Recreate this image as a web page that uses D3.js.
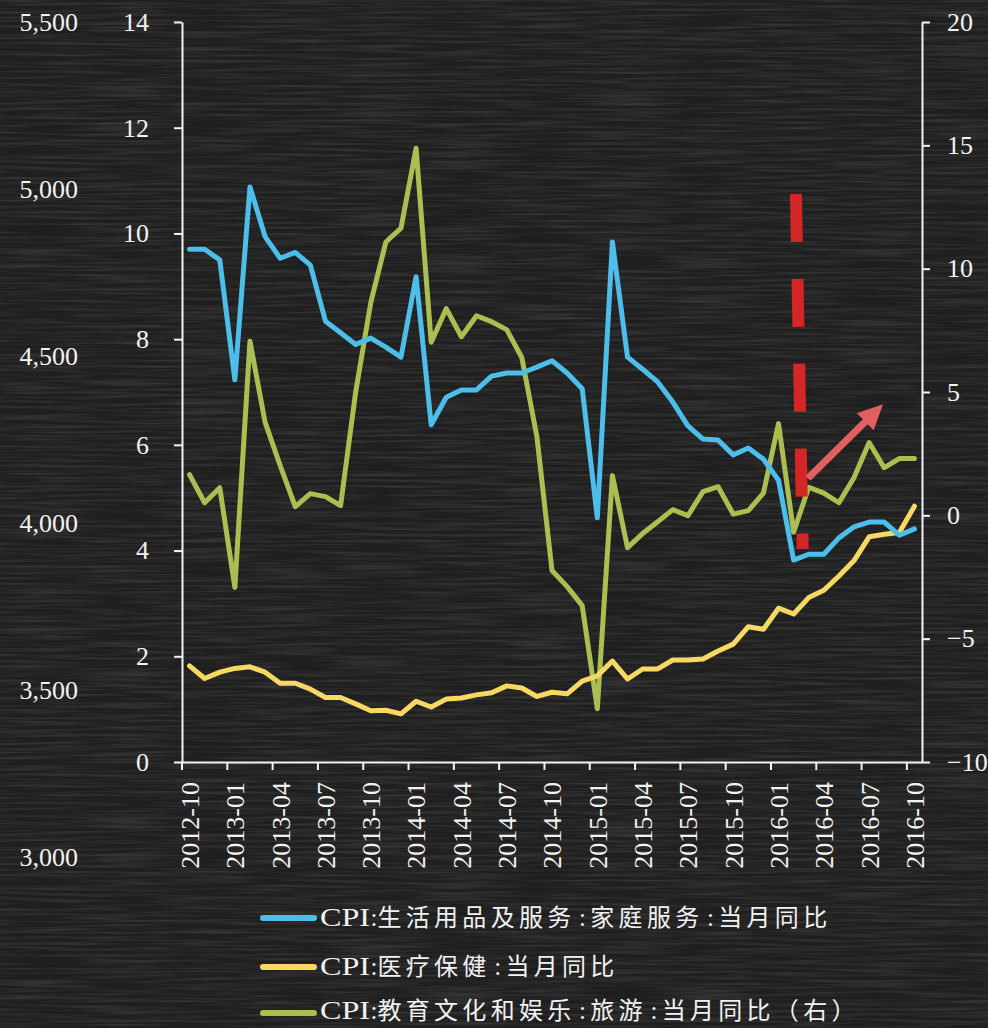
<!DOCTYPE html>
<html>
<head>
<meta charset="utf-8">
<script src="https://cdn.jsdelivr.net/npm/d3@7"></script>
<style>
  html,body{margin:0;padding:0;background:#1f1f1f;}
  svg{display:block;}
</style>
</head>
<body>
<script>
// ---------- data ----------
const months = ["2012-10","2012-11","2012-12","2013-01","2013-02","2013-03","2013-04","2013-05","2013-06","2013-07","2013-08","2013-09","2013-10","2013-11","2013-12","2014-01","2014-02","2014-03","2014-04","2014-05","2014-06","2014-07","2014-08","2014-09","2014-10","2014-11","2014-12","2015-01","2015-02","2015-03","2015-04","2015-05","2015-06","2015-07","2015-08","2015-09","2015-10","2015-11","2015-12","2016-01","2016-02","2016-03","2016-04","2016-05","2016-06","2016-07","2016-08","2016-09","2016-10"];
const xTickLabels = ["2012-10","2013-01","2013-04","2013-07","2013-10","2014-01","2014-04","2014-07","2014-10","2015-01","2015-04","2015-07","2015-10","2016-01","2016-04","2016-07","2016-10"];

const householdServices = [9.70,9.70,9.50,7.23,10.88,9.94,9.53,9.64,9.40,8.34,8.12,7.90,8.02,7.85,7.66,9.18,6.38,6.90,7.04,7.04,7.30,7.36,7.36,7.47,7.59,7.36,7.06,4.62,9.84,7.66,7.43,7.19,6.81,6.36,6.11,6.09,5.81,5.94,5.73,5.33,3.82,3.93,3.93,4.24,4.45,4.54,4.54,4.29,4.41];
const healthCare = [1.82,1.58,1.70,1.77,1.80,1.70,1.49,1.49,1.38,1.22,1.22,1.10,0.97,0.98,0.91,1.15,1.04,1.19,1.21,1.27,1.31,1.44,1.40,1.24,1.32,1.29,1.53,1.63,1.91,1.57,1.76,1.76,1.93,1.93,1.95,2.10,2.23,2.56,2.51,2.91,2.80,3.11,3.25,3.52,3.81,4.26,4.31,4.34,4.84];
const tourism = [1.65,0.51,1.12,-2.92,7.06,3.78,2.02,0.35,0.88,0.76,0.39,5.00,8.62,11.08,11.64,14.88,7.02,8.38,7.24,8.09,7.85,7.53,6.40,3.19,-2.24,-2.89,-3.66,-7.84,1.61,-1.31,-0.74,-0.26,0.23,-0.01,0.96,1.16,0.05,0.19,0.90,3.72,-0.68,1.14,0.90,0.51,1.53,2.95,1.93,2.30,2.30];

const leftTicks = [0,2,4,6,8,10,12,14];
const rightTicks = [-10,-5,0,5,10,15,20];
const ghostTicks = [3000,3500,4000,4500,5000,5500];

const seriesNames = ["CPI:生活用品及服务:家庭服务:当月同比","CPI:医疗保健:当月同比","CPI:教育文化和娱乐:旅游:当月同比（右）"];
const seriesColors = ["#4dbde9","#f6d862","#a9bf52"];

// annotation in data units (month index, left-axis value)
const dashAnno = {i0:40.15, v0:10.75, i1:40.6, v1:4.03};
const arrowAnno = {i0:40.95, v0:5.37, i1:45.92, v1:6.77};

// ---------- layout ----------
const W = 988, H = 1028;
const svg = d3.select("body").append("svg").attr("width", W).attr("height", H);
const serif = "'Liberation Serif','Times New Roman','Noto Sans CJK SC',serif";
const cjk = "'Noto Sans CJK SC','Liberation Serif',serif";

// background (chalkboard)
const defs = svg.append("defs");
const f = defs.append("filter").attr("id","chalk").attr("x",0).attr("y",0).attr("width","100%").attr("height","100%");
f.append("feTurbulence").attr("type","fractalNoise").attr("baseFrequency","0.012 0.35").attr("numOctaves",3).attr("seed",11).attr("result","n");
f.append("feColorMatrix").attr("type","matrix").attr("values","0 0 0 0 1  0 0 0 0 1  0 0 0 0 1  1.0 0 0 0 -0.38");
svg.append("rect").attr("width",W).attr("height",H).attr("fill","#1f1f1f");
svg.append("rect").attr("width",W).attr("height",H).attr("filter","url(#chalk)").attr("opacity",0.22);

const x = d3.scaleBand().domain(months).range([182, 922]).padding(0);
const bw = x.bandwidth();
const xc = d => x(d) + bw/2;
const xi = i => x(months[0]) + bw*(i + 0.5);
const yL = d3.scaleLinear().domain([0,14]).range([762,22]);
const yR = d3.scaleLinear().domain([-10,20]).range([762,22]);
const yG = d3.scaleLinear().domain([3000,5500]).range([857,22]);

function styleAxis(g){
  g.selectAll("path,line").attr("stroke","#f2f2f2").attr("stroke-width",2);
  g.selectAll("text").attr("fill","#f2f2f2").style("font-family",serif).style("font-size","26px");
}

// ghost axis on far left
const gG = svg.append("g").attr("transform","translate(78,0)")
  .call(d3.axisLeft(yG).tickValues(ghostTicks).tickFormat(d3.format(",")).tickSize(0).tickPadding(0));
gG.select(".domain").remove();
styleAxis(gG);

// left axis
const gL = svg.append("g").attr("transform","translate(182,0)")
  .call(d3.axisLeft(yL).tickValues(leftTicks).tickFormat(d3.format("d")).tickSize(8).tickSizeOuter(0).tickPadding(25));
styleAxis(gL);

// right axis
const gR = svg.append("g").attr("transform","translate(922,0)")
  .call(d3.axisRight(yR).tickValues(rightTicks).tickFormat(d3.format("d")).tickSize(8).tickSizeOuter(0).tickPadding(17));
styleAxis(gR);

// bottom axis
const gB = svg.append("g").attr("transform","translate(0,762)")
  .call(d3.axisBottom(x).tickValues(xTickLabels).tickSize(8).tickSizeOuter(0));
styleAxis(gB);
gB.selectAll(".tick line").attr("x1",-bw/2).attr("x2",-bw/2);
gB.selectAll(".tick text")
  .attr("transform","rotate(-90)")
  .attr("x",-20).attr("y",0).attr("dy","0.36em")
  .style("text-anchor","end");

// lines
const lineL = d3.line().x((d,i)=>xc(months[i])).y(d=>yL(d));
const lineR = d3.line().x((d,i)=>xc(months[i])).y(d=>yR(d));
const plot = svg.append("g").attr("fill","none").attr("stroke-width",5).attr("stroke-linejoin","round").attr("stroke-linecap","round");
plot.append("path").datum(tourism).attr("d",lineR).attr("stroke",seriesColors[2]);
plot.append("path").datum(healthCare).attr("d",lineL).attr("stroke",seriesColors[1]);
plot.append("path").datum(householdServices).attr("d",lineL).attr("stroke",seriesColors[0]);

// red dashed annotation
svg.append("line")
  .attr("x1",xi(dashAnno.i0)).attr("y1",yL(dashAnno.v0))
  .attr("x2",xi(dashAnno.i1)).attr("y2",yL(dashAnno.v1))
  .attr("stroke","#d42626").attr("stroke-width",12).attr("stroke-dasharray","48 37");

// arrow annotation
(function(){
  const x0 = xi(arrowAnno.i0), y0 = yL(arrowAnno.v0), x1 = xi(arrowAnno.i1), y1 = yL(arrowAnno.v1);
  const dx = x1-x0, dy = y1-y0, len = Math.hypot(dx,dy), ux = dx/len, uy = dy/len, px = -uy, py = ux;
  const headL = 25, headW = 12, sw = 3.5;
  const bx = x1 - ux*headL, by = y1 - uy*headL;
  const pts = [
    [x0+px*sw, y0+py*sw],[bx+px*sw, by+py*sw],[bx+px*headW, by+py*headW],[x1,y1],
    [bx-px*headW, by-py*headW],[bx-px*sw, by-py*sw],[x0-px*sw, y0-py*sw]
  ];
  svg.append("path").attr("d","M"+pts.map(p=>p.join(",")).join("L")+"Z").attr("fill","#e25f5f");
})();

// legend
const legY = [918, 967, 1013];
const legBase = [926, 975, 1019];
const leg = svg.append("g");
seriesNames.forEach((name,i)=>{
  leg.append("line").attr("x1",263).attr("x2",314).attr("y1",legY[i]).attr("y2",legY[i])
    .attr("stroke",seriesColors[i]).attr("stroke-width",6).attr("stroke-linecap","round");
  const t = leg.append("text").attr("x",320).attr("y",legBase[i])
    .attr("fill","#f2f2f2").style("font-size","24px");
  const parts = name.split(":");
  t.append("tspan").text(parts[0]).style("font-family",serif).style("font-size","26px")
    .attr("textLength",50).attr("lengthAdjust","spacingAndGlyphs");
  parts.slice(1).forEach((p,k)=>{
    t.append("tspan").text(":").style("font-family",serif).style("font-size","25px")
      .attr("dx", k===0 ? 0.5 : 3.5);
    t.append("tspan").text(p).style("font-family",cjk).style("font-size","24px")
      .style("letter-spacing","4.3px").attr("dx", k===0 ? 0 : 4.3);
  });
});
</script>
</body>
</html>
